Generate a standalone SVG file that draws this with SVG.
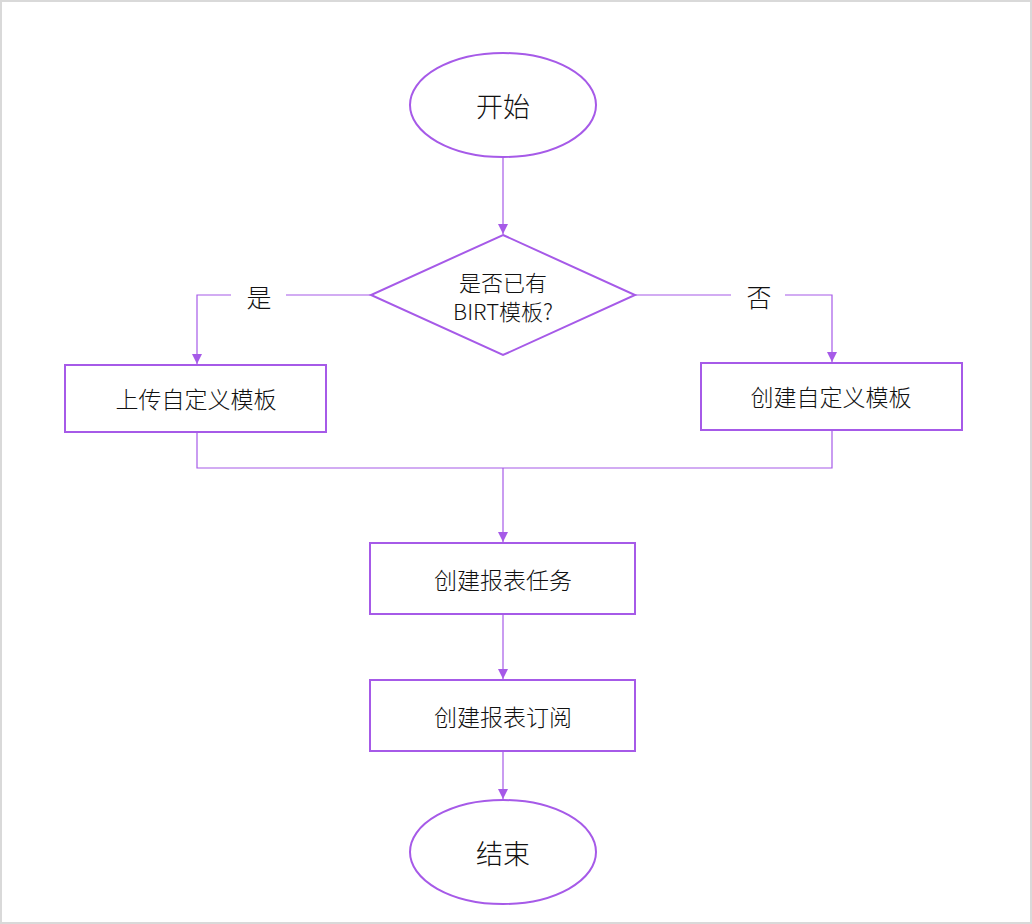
<svg xmlns="http://www.w3.org/2000/svg" width="1032" height="924" viewBox="0 0 1032 924">
<style>
.shape{fill:#fff;stroke:#a65ae8;stroke-width:2}
.conn{fill:none;stroke:#a65ae8;stroke-width:1.2}
text{font-family:"Noto Sans CJK SC","Noto Sans",sans-serif;font-weight:300;fill:#111;text-anchor:middle;dominant-baseline:central}
.t20{font-size:23px}
.t22{font-size:22px}
.t24{font-size:27px}
.lbl{font-size:25px}
</style>
<defs>
<marker id="arr" viewBox="0 0 10 10" refX="10" refY="5" markerWidth="10" markerHeight="10" markerUnits="userSpaceOnUse" orient="auto">
<path d="M0,0 L10,5 L0,10 z" fill="#a65ae8"/>
</marker>
</defs>
<rect x="1" y="1" width="1030" height="922" fill="#fff" stroke="#d9d9d9" stroke-width="2"/>
<g id="connectors">
<path class="conn" d="M503,157 V234" marker-end="url(#arr)"/>
<path class="conn" d="M371,295 H286 M231,295 H197 V364" marker-end="url(#arr)"/>
<path class="conn" d="M635,295 H731 M785,295 H832 V362" marker-end="url(#arr)"/>
<path class="conn" d="M197,432 V468 H832 V430"/>
<path class="conn" d="M503,468 V542" marker-end="url(#arr)"/>
<path class="conn" d="M503,614 V679" marker-end="url(#arr)"/>
<path class="conn" d="M503,751 V799" marker-end="url(#arr)"/>
<text class="lbl" x="259" y="296">是</text>
<text class="lbl" x="759" y="296">否</text>
</g>
<g id="start">
<ellipse class="shape" cx="503" cy="105" rx="93" ry="52"/>
<text class="t24" x="503" y="105">开始</text>
</g>
<g id="decision">
<polygon class="shape" points="503,235 635,295 503,355 371,295"/>
<text class="t22" x="503" y="281">是否已有</text>
<text class="t22" x="503" y="310">BIRT模板?</text>
</g>
<g id="upload">
<rect class="shape" x="65" y="365" width="261" height="67"/>
<text class="t20" x="196" y="398">上传自定义模板</text>
</g>
<g id="create-template">
<rect class="shape" x="701" y="363" width="261" height="67"/>
<text class="t20" x="831" y="396">创建自定义模板</text>
</g>
<g id="create-task">
<rect class="shape" x="370" y="543" width="265" height="71"/>
<text class="t20" x="503" y="579">创建报表任务</text>
</g>
<g id="create-sub">
<rect class="shape" x="370" y="680" width="265" height="71"/>
<text class="t20" x="503" y="716">创建报表订阅</text>
</g>
<g id="end">
<ellipse class="shape" cx="503" cy="852" rx="93" ry="52"/>
<text class="t24" x="503" y="852">结束</text>
</g>
</svg>
